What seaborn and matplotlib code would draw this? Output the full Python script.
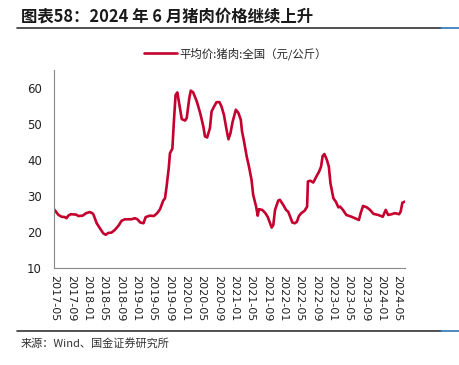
import matplotlib
matplotlib.use("Agg")
import matplotlib.pyplot as plt
import matplotlib.dates as mdates
import seaborn as sns
import pandas as pd

# 平均价:猪肉:全国 (元/公斤), values
dates = [
    "2017-05-01", "2017-06-01", "2017-06-25", "2017-07-19", "2017-08-01", "2017-08-13",
    "2017-09-01", "2017-10-10", "2017-10-28", "2017-11-28", "2017-12-25", "2018-01-22",
    "2018-02-15", "2018-03-13", "2018-04-06", "2018-05-01", "2018-05-19", "2018-06-07",
    "2018-07-01", "2018-07-25", "2018-08-22", "2018-09-15", "2018-10-10", "2018-11-28",
    "2018-12-22", "2019-01-10", "2019-02-01", "2019-02-25", "2019-03-13", "2019-04-13",
    "2019-05-13", "2019-06-07", "2019-06-28", "2019-07-22", "2019-08-04", "2019-08-16",
    "2019-09-01", "2019-09-10", "2019-09-28", "2019-10-10", "2019-10-22", "2019-11-04",
    "2019-11-25", "2019-12-07", "2020-01-01", "2020-01-13", "2020-02-01", "2020-02-12",
    "2020-03-01", "2020-03-28", "2020-04-22", "2020-05-04", "2020-05-16", "2020-05-28",
    "2020-06-13", "2020-07-04", "2020-07-16", "2020-08-04", "2020-08-22", "2020-09-13",
    "2020-09-28", "2020-10-16", "2020-11-07", "2020-11-19", "2020-12-04", "2020-12-19",
    "2021-01-13", "2021-02-01", "2021-02-19", "2021-02-28", "2021-03-13", "2021-04-04",
    "2021-04-22", "2021-05-10", "2021-05-22", "2021-06-13", "2021-06-25", "2021-07-04",
    "2021-07-28", "2021-08-19", "2021-09-07", "2021-09-25", "2021-10-07", "2021-10-19",
    "2021-11-01", "2021-11-25", "2021-12-07", "2022-01-01", "2022-01-22", "2022-02-07",
    "2022-02-22", "2022-03-10", "2022-03-28", "2022-04-13", "2022-04-28", "2022-05-16",
    "2022-06-10", "2022-06-28", "2022-07-04", "2022-07-22", "2022-08-13", "2022-09-07",
    "2022-09-25", "2022-10-10", "2022-10-22", "2022-11-04", "2022-11-22", "2022-12-07",
    "2022-12-19", "2023-01-10", "2023-01-28", "2023-02-16", "2023-03-01", "2023-03-22",
    "2023-04-16", "2023-05-25", "2023-07-01", "2023-07-19", "2023-08-01", "2023-08-19",
    "2023-09-16", "2023-10-10", "2023-11-04", "2023-12-10", "2024-01-13", "2024-02-04",
    "2024-02-22", "2024-03-19", "2024-04-13", "2024-05-13", "2024-05-25", "2024-06-07",
    "2024-06-25",
]
prices = [
    26.3, 24.8, 24.3, 24.2, 23.9, 24.6,
    25.0, 24.9, 24.5, 24.6, 25.3, 25.6,
    25.1, 22.5, 21.1, 19.7, 19.3, 19.8,
    19.9, 20.6, 21.8, 23.2, 23.6, 23.6,
    23.9, 23.6, 22.7, 22.5, 24.2, 24.6,
    24.5, 25.3, 26.4, 28.8, 29.4, 32.7,
    37.8, 41.9, 43.2, 51.2, 58.1, 58.8,
    54.0, 51.4, 51.0, 51.7, 57.2, 59.3,
    58.8, 56.3, 53.1, 51.2, 49.3, 46.6,
    46.3, 48.9, 53.5, 54.9, 56.1, 56.1,
    54.9, 52.6, 48.0, 45.8, 47.5, 50.5,
    54.0, 53.1, 51.2, 48.0, 45.6, 41.0,
    38.0, 34.5, 30.4, 27.1, 24.6, 26.4,
    26.2, 25.4, 24.3, 22.5, 21.3, 22.0,
    26.2, 28.8, 29.0, 27.6, 26.2, 25.7,
    24.3, 22.7, 22.5, 22.9, 24.5, 25.3,
    26.0, 27.1, 34.1, 34.3, 33.8, 35.6,
    36.8, 38.2, 41.2, 41.7, 40.1, 38.2,
    33.6, 29.4, 28.5, 26.9, 27.1, 26.2,
    24.8, 24.3, 23.7, 23.4, 25.3, 27.3,
    26.9, 26.2, 25.1, 24.8, 24.3, 26.2,
    24.8, 25.0, 25.3, 25.0, 25.7, 28.2,
    28.5,
]
series_name = "平均价:猪肉:全国（元/公斤）"
title = "图表58：2024 年 6 月猪肉价格继续上升"
source = "来源：Wind、国金证券研究所"

df = pd.DataFrame({"date": pd.to_datetime(dates), "price": prices})

sns.set_theme(style="white")
plt.rcParams["font.family"] = ["Noto Sans CJK SC", "DejaVu Sans"]

fig = plt.figure(figsize=(4.6, 3.65), dpi=100)
ax = fig.add_axes([0.118, 0.265, 0.762, 0.543])

sns.lineplot(data=df, x="date", y="price", ax=ax, color="#C4002F",
             linewidth=1.9, label=series_name)

ax.set_xlim(df["date"].iloc[0], df["date"].iloc[-1])
ax.set_ylim(10, 65)
ax.set_yticks([10, 20, 30, 40, 50, 60])
ax.set_xticks(pd.date_range("2017-05-01", "2024-05-01", freq="4MS"))
ax.xaxis.set_major_formatter(mdates.DateFormatter("%Y-%m"))
ax.set_xlabel("")
ax.set_ylabel("")

for side in ["top", "right"]:
    ax.spines[side].set_visible(False)
for side in ["left", "bottom"]:
    ax.spines[side].set_color("#888888")
    ax.spines[side].set_linewidth(0.8)

ax.tick_params(axis="both", which="major", length=3, width=0.7, color="#888888",
               labelsize=8, labelcolor="#222222", pad=2)
ax.tick_params(axis="y", pad=6)
plt.setp(ax.get_xticklabels(), rotation=270, ha="center", va="top",
         family=["DejaVu Sans"])
plt.setp(ax.get_yticklabels(), family=["DejaVu Sans"], fontsize=8.5)

ax.legend(loc="center", bbox_to_anchor=(0.512, 0.853), bbox_transform=fig.transFigure,
          frameon=False, fontsize=8.2, handlelength=2.9, handletextpad=0.25)

# title, separator lines and source
fig.text(0.045, 0.955, title, fontsize=11.8, fontweight="bold", style="italic",
         color="#1a1a1a", va="center")
fig.add_artist(plt.Line2D([0.037, 0.958], [0.922, 0.922], color="#333333", lw=1.2))
fig.add_artist(plt.Line2D([0.958, 1.0], [0.922, 0.922], color="#2E75B6", lw=1.2))
fig.add_artist(plt.Line2D([0.037, 0.958], [0.094, 0.094], color="#333333", lw=1.2))
fig.add_artist(plt.Line2D([0.958, 1.0], [0.094, 0.094], color="#2E75B6", lw=1.2))
fig.text(0.045, 0.06, source, fontsize=8, color="#333333", va="center")

fig.savefig("out.png", dpi=100)
